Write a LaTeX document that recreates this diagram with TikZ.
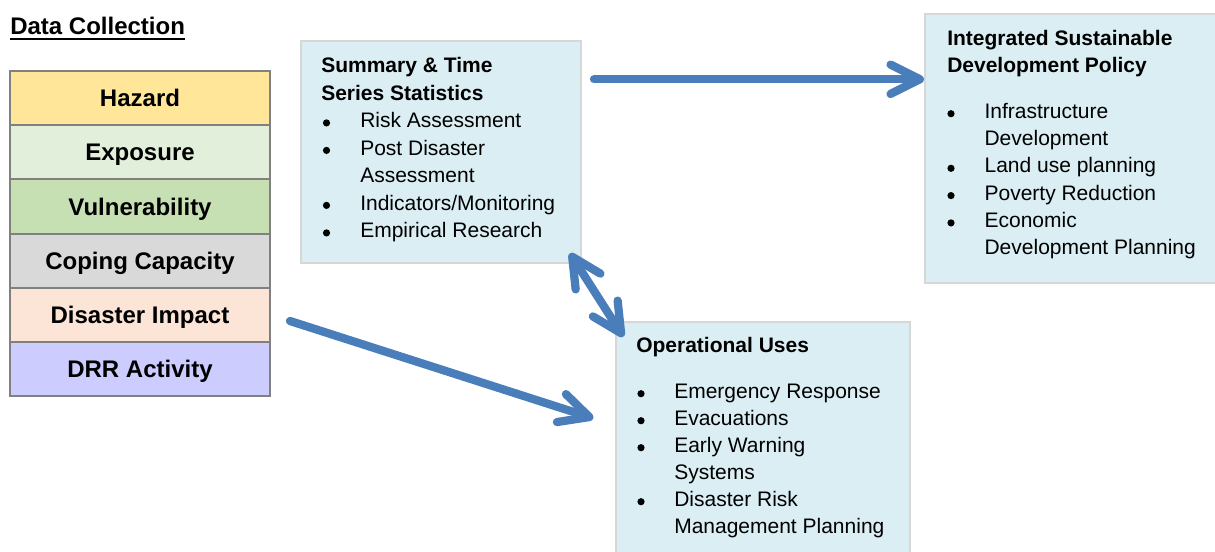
\documentclass[tikz,border=0pt]{standalone}
\usepackage{fontspec}
\setmainfont{Liberation Sans}
\usetikzlibrary{arrows.meta,fit,calc}
\definecolor{boxfill}{RGB}{218,238,243}
\definecolor{boxline}{RGB}{215,215,215}
\definecolor{rowline}{RGB}{128,128,128}
\definecolor{cHazard}{RGB}{255,230,153}
\definecolor{cExposure}{RGB}{226,239,218}
\definecolor{cVuln}{RGB}{198,224,180}
\definecolor{cCoping}{RGB}{217,217,217}
\definecolor{cImpact}{RGB}{252,228,214}
\definecolor{cDRR}{RGB}{204,204,255}
\definecolor{arrowblue}{RGB}{74,126,187}
\begin{document}
\begin{tikzpicture}[x=0.75pt,y=-0.75pt,
  infobox/.style={draw=boxline, line width=1.5pt, fill=boxfill, inner sep=0pt},
  rowbox/.style={draw=rowline, line width=1.5pt, minimum width=195pt, minimum height=40.625pt,
    inner sep=0pt, font=\fontsize{18}{20}\selectfont\bfseries, text height=12.9pt, text depth=0pt},
  ttl/.style={anchor=base west, inner sep=0pt, font=\fontsize{15.75}{18}\selectfont\bfseries},
  itm/.style={anchor=base west, inner sep=0pt, font=\fontsize{15.75}{18}\selectfont},
  blt/.style={circle, fill=black, inner sep=0pt, minimum size=5.4pt},
  flowtip/.tip={Straight Barb[round,length=22pt,width=22pt]},
  flow/.style={draw=arrowblue, line width=6.2pt, line cap=round, -flowtip},
  flowboth/.style={draw=arrowblue, line width=6.2pt, line cap=round, flowtip-flowtip}
]
\useasboundingbox (0,0) rectangle (1215,551);

% Data collection title
\node[anchor=base west, inner sep=0pt, font=\fontsize{18}{20}\selectfont\bfseries] (dc) at (10,34.5) {Data Collection};
\draw[line width=1.5pt] ($(dc.base west)+(0,4.8)$) -- ($(dc.base east)+(0,4.8)$);

% Stack of data categories
\node[rowbox, fill=cHazard]   (hazard)   at (140,98.08)  {Hazard};
\node[rowbox, fill=cExposure] (exposure) at (140,152.25) {Exposure};
\node[rowbox, fill=cVuln]     (vuln)     at (140,206.42) {Vulnerability};
\node[rowbox, fill=cCoping]   (coping)   at (140,260.58) {Coping Capacity};
\node[rowbox, fill=cImpact]   (impact)   at (140,314.75) {Disaster Impact};
\node[rowbox, fill=cDRR]      (drr)      at (140,368.92) {DRR Activity};

% Summary box
\node[infobox, fit={(301,41) (581,263)}] (summ) {};
\node[ttl] (summt1) at (321,72.7) {Summary \& Time};
\node[ttl] (summt2) at (321,100) {Series Statistics};
\foreach \ypos/\txt [count=\i] in {127.5/Risk Assessment, 155/Post Disaster, 182.5/Assessment, 210/Indicators\slash Monitoring, 237.5/Empirical Research}
  \node[itm] (si\i) at (360,\ypos) {\txt};
\foreach \ypos [count=\i] in {127.5,155,210,237.5}
  \node[blt] (sb\i) at (326.5,\ypos-4.6) {};

% Operational box
\node[infobox, fit={(616,322) (910,565)}] (oper) {};
\node[ttl] (opert) at (636,352.7) {Operational Uses};
\foreach \ypos/\txt [count=\i] in {398.3/Emergency Response, 425.3/Evacuations, 452.3/Early Warning, 479.3/Systems, 506.3/Disaster Risk, 533.3/Management Planning}
  \node[itm] (oi\i) at (674,\ypos) {\txt};
\foreach \ypos [count=\i] in {398.3,425.3,452.3,506.3}
  \node[blt] (ob\i) at (641,\ypos-4.6) {};

% Integrated box
\node[infobox, fit={(925,14) (1230,283)}] (intg) {};
\node[ttl] (intgt1) at (947,45) {Integrated Sustainable};
\node[ttl] (intgt2) at (947,72.7) {Development Policy};
\foreach \ypos/\txt [count=\i] in {118.3/Infrastructure, 145.6/Development, 172.9/Land use planning, 200.2/Poverty Reduction, 227.5/Economic, 254.8/Development Planning}
  \node[itm] (ii\i) at (984.3,\ypos) {\txt};
\foreach \ypos [count=\i] in {118.3,172.9,200.2,227.5}
  \node[blt] (ib\i) at (951,\ypos-4.6) {};

% Arrows
\coordinate (a1s) at (594,79.3);
\draw[flow] (a1s) -- (intg.west |- a1s);

\coordinate (a2s) at (570,253.3);
\coordinate (a2e) at (623.3,336.7);
\draw[flowboth] (a2s) -- (a2e);

\coordinate (a3s) at (290,321);
\coordinate (a3e) at (593.3,418.3);
\draw[flow] (a3s) -- (a3e);
\end{tikzpicture}
\end{document}
